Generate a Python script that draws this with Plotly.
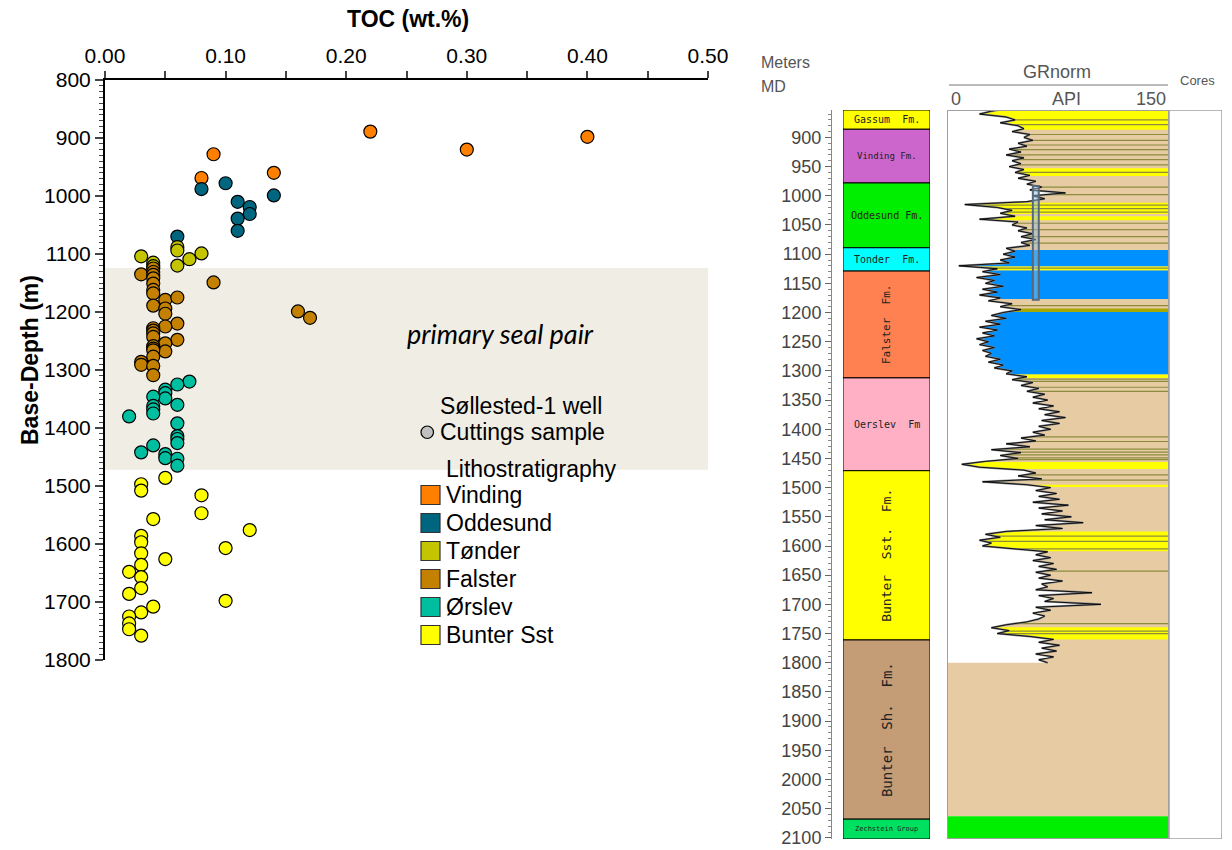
import numpy as np
import plotly.graph_objects as go

W, H = 1232, 850
def px(x): return x / W
def py(y): return 1 - y / H

# ---------------- TOC scatter data ----------------
FORM_NAMES = ["Vinding", "Oddesund", "Tønder", "Falster", "Ørslev", "Bunter Sst"]
FORM_COLORS = ["#FF8000", "#006680", "#C4C400", "#C48000", "#00BFA0", "#FFFF00"]

VINDING_TOC = [0.22, 0.30, 0.40, 0.09, 0.08, 0.14]
VINDING_DEPTH = [889, 920, 898, 928, 969, 960]
ODDESUND_TOC = [0.08, 0.10, 0.11, 0.12, 0.12, 0.11, 0.11, 0.14, 0.06]
ODDESUND_DEPTH = [988, 978, 1010, 1019, 1031, 1039, 1060, 999, 1070]
TONDER_TOC = [0.03, 0.04, 0.06, 0.06, 0.07, 0.08, 0.06, 0.04]
TONDER_DEPTH = [1104, 1115, 1088, 1094, 1109, 1099, 1120, 1121]
FALSTER_TOC = [0.03, 0.04, 0.04, 0.04, 0.04, 0.04, 0.04, 0.04, 0.04, 0.09, 0.05,
               0.05, 0.05, 0.06, 0.06, 0.05, 0.04, 0.04, 0.04, 0.04, 0.06, 0.05,
               0.05, 0.04, 0.04, 0.04, 0.04, 0.03, 0.03, 0.04, 0.04, 0.16, 0.17]
FALSTER_DEPTH = [1135, 1125, 1131, 1136, 1142, 1151, 1162, 1168, 1189, 1149, 1179,
                 1194, 1203, 1175, 1220, 1225, 1228, 1232, 1237, 1243, 1248, 1254,
                 1268, 1259, 1263, 1266, 1277, 1286, 1291, 1293, 1309, 1199, 1210]
ORSLEV_TOC = [0.07, 0.06, 0.05, 0.05, 0.05, 0.04, 0.04, 0.04, 0.04, 0.02, 0.06,
              0.06, 0.06, 0.06, 0.06, 0.04, 0.03, 0.05, 0.05, 0.06, 0.06]
ORSLEV_DEPTH = [1320, 1325, 1334, 1340, 1349, 1346, 1362, 1368, 1375, 1380, 1360,
                1392, 1414, 1419, 1426, 1430, 1442, 1445, 1452, 1453, 1465]
BUNTER_TOC = [0.05, 0.03, 0.03, 0.08, 0.08, 0.04, 0.12, 0.03, 0.03, 0.10, 0.03, 0.05,
              0.03, 0.02, 0.03, 0.03, 0.02, 0.10, 0.04, 0.03, 0.02, 0.02, 0.02, 0.03]
BUNTER_DEPTH = [1486, 1497, 1508, 1516, 1547, 1557, 1576, 1586, 1597, 1607, 1616, 1626,
                1636, 1648, 1657, 1676, 1686, 1698, 1708, 1718, 1725, 1737, 1747, 1758]

SEAL_TOP, SEAL_BASE = 1124, 1472

# ---------------- Well log data ----------------
FM_NAMES = ["Gassum  Fm.", "Vinding Fm.", "Oddesund Fm.", "Tonder  Fm.", "Falster  Fm.",
            "Oerslev  Fm", "Bunter  Sst.  Fm.", "Bunter  Sh.  Fm.", "Zechstein Group"]
FM_TOP = [853, 886, 978, 1089, 1129, 1312, 1471, 1761, 2068]
FM_BASE = [886, 978, 1089, 1129, 1312, 1471, 1761, 2068, 2102]
FM_COLORS = ["#FFFF00", "#CC66CC", "#00EE00", "#00FFFF", "#FF8050",
             "#FFB0C4", "#FFFF00", "#C49C76", "#00E060"]

GR_DEPTH = np.arange(850, 1801, 5)
GR_API = [
    42, 30, 22, 40, 46, 36, 48, 52, 44, 56,
    52, 58, 48, 54, 42, 50, 40, 52, 44, 50,
    42, 52, 46, 56, 48, 60, 54, 64, 56, 80,
    58, 66, 54, 12, 34, 44, 36, 46, 22, 48,
    44, 54, 48, 58, 50, 60, 50, 56, 40, 46,
    38, 46, 36, 42, 8, 34, 24, 36, 20, 32,
    26, 38, 24, 34, 22, 36, 28, 44, 36, 50,
    38, 30, 40, 26, 36, 22, 34, 24, 32, 20,
    28, 22, 32, 24, 30, 26, 36, 28, 38, 32,
    44, 40, 54, 44, 58, 50, 62, 54, 66, 58,
    68, 58, 72, 62, 76, 66, 80, 64, 76, 62,
    70, 58, 66, 50, 60, 40, 56, 30, 50, 36,
    48, 26, 10, 22, 52, 60, 48, 64, 24, 54,
    70, 60, 74, 62, 76, 58, 82, 62, 78, 64,
    84, 66, 92, 60, 78, 40, 26, 36, 22, 30,
    24, 44, 68, 60, 70, 58, 72, 62, 74, 60,
    70, 62, 78, 64, 68, 60, 98, 62, 72, 66,
    104, 60, 70, 58, 66, 62, 54, 40, 30, 42,
    34, 56, 72, 62, 76, 64, 74, 60, 72, 62,
    68,
]

LITH_TOP = [853, 853, 953, 1012, 1035, 1093, 1121, 1128, 1193, 1199, 1306, 1456, 1495, 1575, 1739, 2063]
LITH_BASE = [2063, 887, 966, 1031, 1042, 1121, 1128, 1177, 1199, 1306, 1312, 1468, 1499, 1609, 1760, 2102]
LITH_CODE = ["shale", "sand", "sand", "sand", "sand", "salt", "sand", "salt", "silt", "salt",
             "sand", "sand", "sand", "sand", "sand", "zech"]
LITH_COLORS = {"shale": "#E6CBA3", "sand": "#FFFF00", "salt": "#0090FF",
               "silt": "#A8A800", "zech": "#00EE00"}
SILT_LINES = [870, 878, 895, 905, 913, 921, 930, 938, 947, 960, 985, 998, 1016, 1022,
              1028, 1047, 1058, 1070, 1081, 1124, 1188, 1314, 1318, 1328, 1335, 1413,
              1421, 1434, 1439, 1444, 1449, 1452, 1478, 1487, 1583, 1592, 1605, 1643,
              1733, 1746, 1750]
CORE_TOP, CORE_BASE = [983], [1178]
CORE_API = [58, 62]

fig = go.Figure()

toc_sets = [VINDING_TOC, ODDESUND_TOC, TONDER_TOC, FALSTER_TOC, ORSLEV_TOC, BUNTER_TOC]
dep_sets = [VINDING_DEPTH, ODDESUND_DEPTH, TONDER_DEPTH, FALSTER_DEPTH, ORSLEV_DEPTH, BUNTER_DEPTH]
for name, t, d, c in zip(FORM_NAMES, toc_sets, dep_sets, FORM_COLORS):
    fig.add_trace(go.Scatter(x=t, y=d, mode="markers", name=name, showlegend=False,
                             xaxis="x", yaxis="y",
                             marker=dict(size=13, color=c, line=dict(color="black", width=1.2))))

fig.add_trace(go.Scatter(x=GR_API, y=GR_DEPTH, xaxis="x3", yaxis="y2", mode="lines",
                         fill="tozerox", fillcolor="white",
                         line=dict(color="#8A8A8A", width=2), showlegend=False))
fig.add_trace(go.Scatter(x=GR_API, y=GR_DEPTH, xaxis="x3", yaxis="y2", mode="lines",
                         line=dict(color="black", width=0.9), showlegend=False))

shapes = []
shapes.append(dict(type="rect", xref="x", yref="y", x0=0, x1=0.5, y0=SEAL_TOP, y1=SEAL_BASE,
                   fillcolor="#F0EDE5", line=dict(width=0), layer="below"))
shapes.append(dict(type="rect", xref="paper", yref="paper", x0=px(415), x1=px(622),
                   y0=py(446), y1=py(385), fillcolor="white", line=dict(width=0), layer="below"))
shapes.append(dict(type="rect", xref="paper", yref="paper", x0=px(415), x1=px(633),
                   y0=py(470), y1=py(450), fillcolor="white", line=dict(width=0), layer="below"))
shapes.append(dict(type="circle", xref="paper", yref="paper", x0=px(421), x1=px(433.5),
                   y0=py(438.5), y1=py(426), fillcolor="#C0C0C0", line=dict(color="black", width=1.2)))
row_y = [495, 523, 551, 579, 607, 635]
for yc, c in zip(row_y, FORM_COLORS):
    shapes.append(dict(type="rect", xref="paper", yref="paper", x0=px(421), x1=px(440),
                       y0=py(yc + 9.5), y1=py(yc - 9.5), fillcolor=c,
                       line=dict(color="#333333", width=1.2)))

for top, base, col in zip(FM_TOP, FM_BASE, FM_COLORS):
    shapes.append(dict(type="rect", xref="x2", yref="y2", x0=0, x1=1, y0=top, y1=base,
                       fillcolor=col, line=dict(color="black", width=1)))

for top, base, code in zip(LITH_TOP, LITH_BASE, LITH_CODE):
    shapes.append(dict(type="rect", xref="x3", yref="y2", x0=0, x1=150, y0=top, y1=base,
                       fillcolor=LITH_COLORS[code], line=dict(width=0), layer="below"))
for d in SILT_LINES:
    shapes.append(dict(type="line", xref="x3", yref="y2", x0=0, x1=150, y0=d, y1=d,
                       line=dict(color="#8C8C3C", width=1.2), layer="below"))
for top, base in zip(CORE_TOP, CORE_BASE):
    shapes.append(dict(type="rect", xref="x3", yref="y2", x0=CORE_API[0], x1=CORE_API[1],
                       y0=top, y1=base, fillcolor="rgba(150,185,215,0.5)",
                       line=dict(color="#56687A", width=2)))
shapes.append(dict(type="rect", xref="x3", yref="y2", x0=0, x1=150, y0=853, y1=2102,
                   line=dict(color="#A0A0A0", width=2), fillcolor="rgba(0,0,0,0)"))
shapes.append(dict(type="rect", xref="x4", yref="y2", x0=0, x1=1, y0=853, y1=2102,
                   line=dict(color="#A0A0A0", width=1.5), fillcolor="rgba(0,0,0,0)"))
shapes.append(dict(type="line", xref="paper", yref="paper", x0=px(949), x1=px(1168),
                   y0=py(85), y1=py(85), line=dict(color="#777777", width=1)))

ann = []
LS = "Liberation Sans"

def txt(text, x, y, size, xa="center", ya="middle", color="black", family=LS, angle=0, align="center"):
    ann.append(dict(text=text, x=px(x), y=py(y), xref="paper", yref="paper", showarrow=False,
                    xanchor=xa, yanchor=ya, textangle=angle, align=align,
                    font=dict(family=family, size=size, color=color)))

txt("<b>TOC (wt.%)</b>", 408, 19, 23)
txt("<b>Base-Depth (m)</b>", 30, 360, 23, angle=-90)
txt("<i>primary seal pair</i>", 500, 333, 27, family="Lato")
txt("Søllested-1 well", 438, 406, 23, xa="left")
txt("Cuttings sample", 438, 432, 23, xa="left")
txt("Lithostratigraphy", 444, 469, 23, xa="left")
for yc, name in zip(row_y, FORM_NAMES):
    txt(name, 444, yc, 23, xa="left")

MONO = "DejaVu Sans Mono"
fm_sizes = [10, 9, 10, 10, 11, 10, 13, 14, 7]
fm_angles = [0, 0, 0, 0, -90, 0, -90, -90, 0]
for name, top, base, s, a in zip(FM_NAMES, FM_TOP, FM_BASE, fm_sizes, fm_angles):
    ann.append(dict(text=name, x=0.5, y=(top + base) / 2, xref="x2", yref="y2",
                    xanchor="center", yanchor="middle",
                    showarrow=False, textangle=a, font=dict(family=MONO, size=s, color="#222222")))

GRAY = "#555555"
txt("Meters", 759, 63, 16, xa="left", color=GRAY)
txt("MD", 759, 86, 16, xa="left", color=GRAY)
txt("GRnorm", 1057, 72, 18, color=GRAY)
txt("0", 949, 99, 18, xa="left", color=GRAY)
txt("API", 1066, 99, 18, color=GRAY)
txt("150", 1168, 99, 18, xa="right", color=GRAY)
txt("Cores", 1197, 80, 13, color=GRAY)

fig.update_layout(
    width=W, height=H, margin=dict(l=0, r=0, t=0, b=0, autoexpand=False),
    paper_bgcolor="white", plot_bgcolor="rgba(0,0,0,0)",
    showlegend=False, shapes=shapes, annotations=ann, hovermode=False,
    xaxis=dict(domain=[px(105), px(708)], range=[0, 0.5], anchor="y", side="top",
               dtick=0.1, tickformat=".2f", ticks="outside", ticklen=7, tickwidth=1.5,
               minor=dict(dtick=0.05, ticks="outside", ticklen=7, tickwidth=1.5),
               showline=True, linecolor="black", linewidth=1.5, showgrid=False, zeroline=False,
               automargin=False, tickfont=dict(family=LS, size=21, color="black")),
    yaxis=dict(domain=[py(660), py(80)], range=[1800, 800], anchor="x",
               dtick=100, ticks="outside", ticklen=8, tickwidth=1.5,
               minor=dict(dtick=10, ticks="outside", ticklen=4, tickwidth=1),
               showline=True, linecolor="black", linewidth=2, showgrid=False, zeroline=False,
               automargin=False, tickfont=dict(family=LS, size=21, color="black")),
    xaxis2=dict(domain=[px(843), px(930)], range=[0, 1], anchor="y2", visible=False, automargin=False),
    xaxis3=dict(domain=[px(947), px(1169)], range=[0, 150], anchor="y2", visible=False, automargin=False),
    xaxis4=dict(domain=[px(1169), px(1222)], range=[0, 1], anchor="y2", visible=False, automargin=False),
    yaxis2=dict(domain=[py(839), py(110)], range=[2102, 853], anchor="free", position=px(831),
                side="left", tick0=0, dtick=50, ticks="outside", ticklen=6, tickwidth=1,
                tickcolor="#666666",
                minor=dict(dtick=10, ticks="outside", ticklen=3, tickwidth=1, tickcolor="#888888"),
                showline=True, linecolor="#888888", linewidth=1, showgrid=False, zeroline=False,
                automargin=False, tickfont=dict(family=LS, size=18, color="#444444")),
)

fig.write_html("out.html")
